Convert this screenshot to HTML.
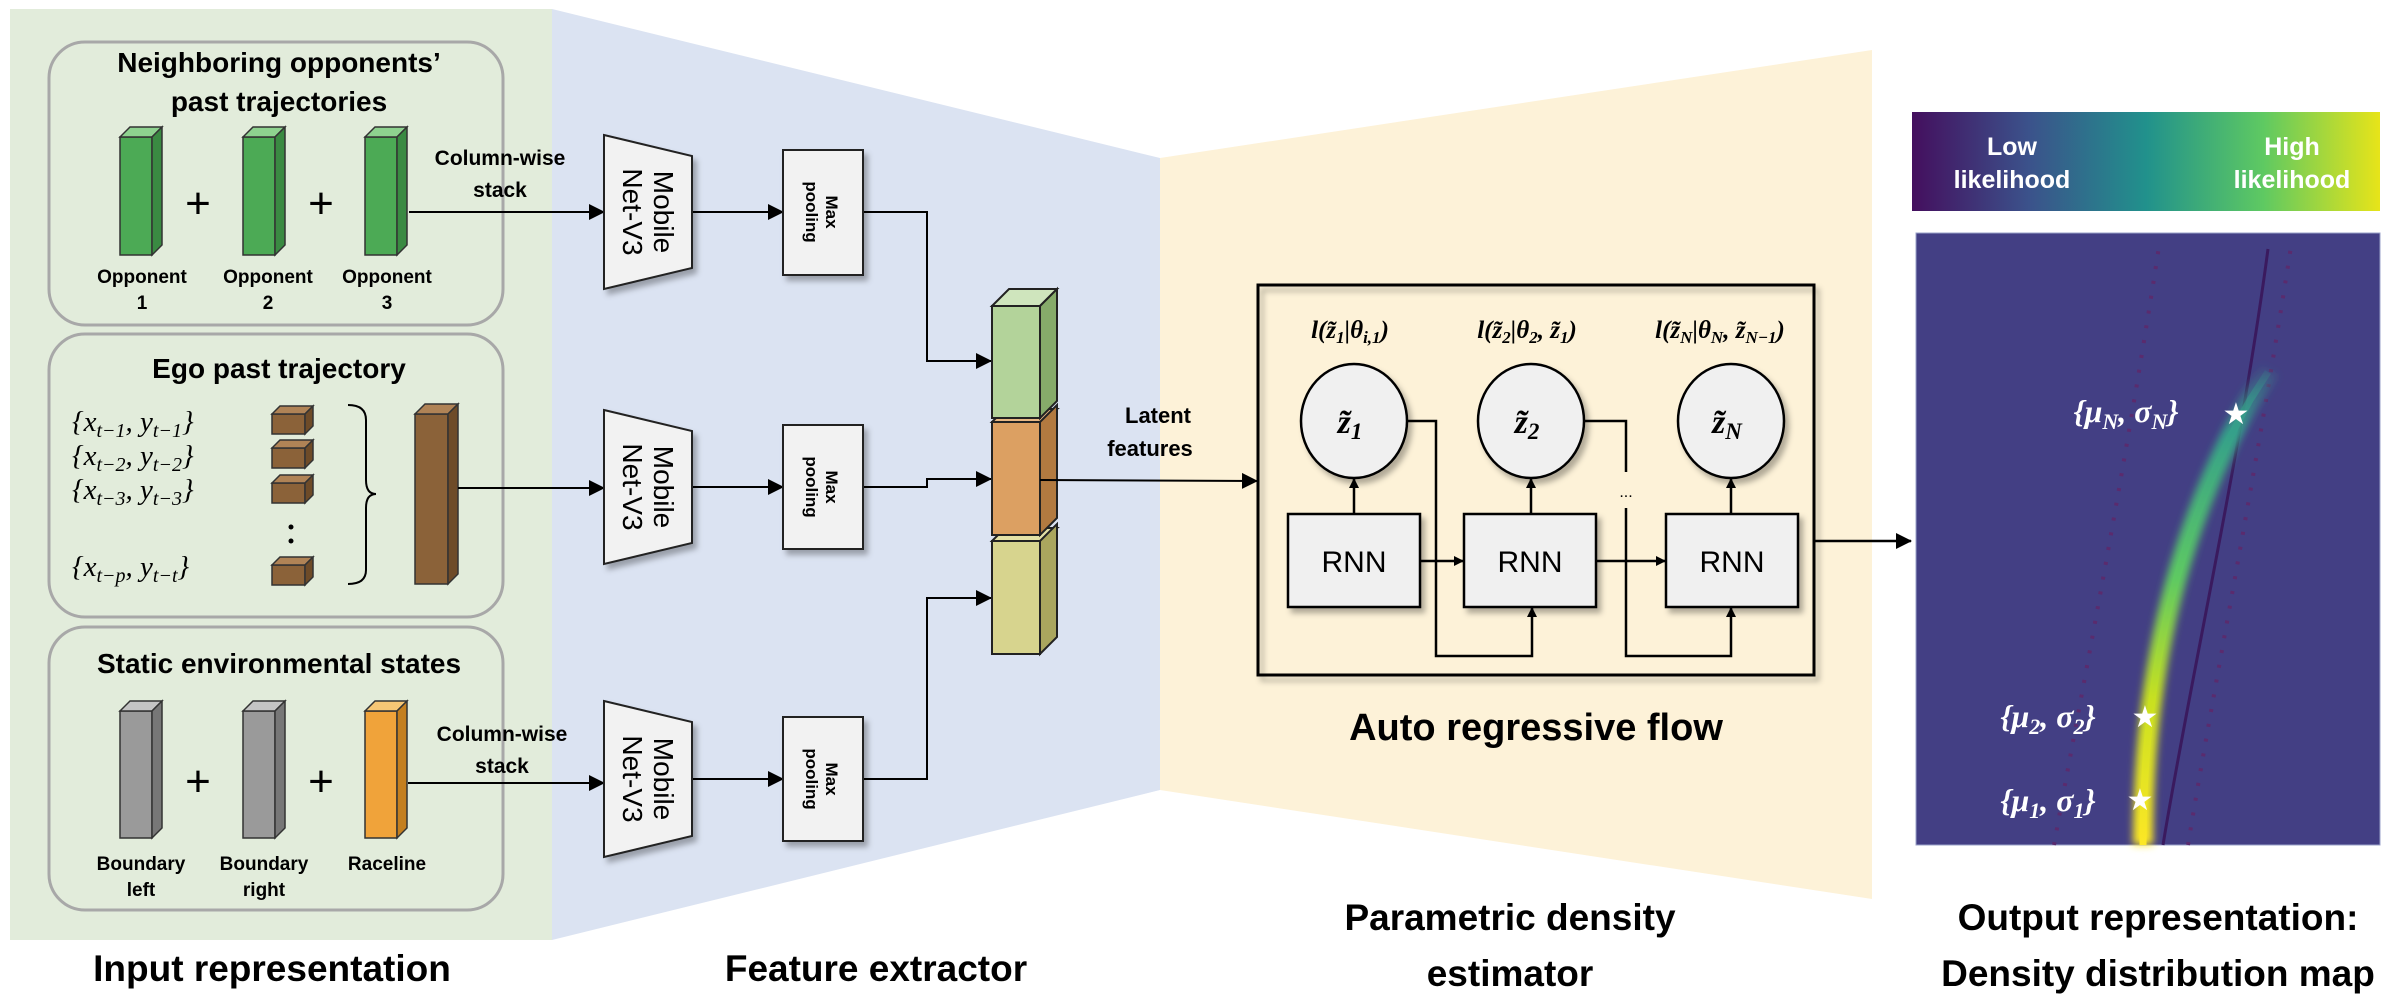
<!DOCTYPE html>
<html><head><meta charset="utf-8"><style>
html,body{margin:0;padding:0;background:#fff;}
svg{display:block}
.t{font-family:"Liberation Sans Narrow","Liberation Sans",sans-serif;font-weight:bold;fill:#000}
.m{font-family:"Liberation Serif",serif;font-style:italic}
</style></head><body>
<svg width="2398" height="1008" viewBox="0 0 2398 1008" xmlns="http://www.w3.org/2000/svg">
<defs>
<marker id="ah" markerWidth="10" markerHeight="10" refX="9" refY="5" orient="auto" markerUnits="userSpaceOnUse" viewBox="0 0 10 10"><path d="M0,0 L10,5 L0,10 z" fill="#000"/></marker>
<marker id="ah2" markerWidth="16" markerHeight="16" refX="15" refY="8" orient="auto" markerUnits="userSpaceOnUse" viewBox="0 0 16 16"><path d="M0,0 L16,8 L0,16 z" fill="#000"/></marker>
<linearGradient id="vir" x1="0" x2="1" y1="0" y2="0">
<stop offset="0" stop-color="#440f5e"/><stop offset="0.25" stop-color="#3b528b"/><stop offset="0.5" stop-color="#21918c"/><stop offset="0.75" stop-color="#5ec962"/><stop offset="1" stop-color="#e7e419"/></linearGradient>
<linearGradient id="glow" gradientUnits="userSpaceOnUse" x1="0" y1="845" x2="0" y2="360">
<stop offset="0" stop-color="#fde725"/><stop offset="0.3" stop-color="#c8e020"/><stop offset="0.55" stop-color="#5ec962"/><stop offset="0.85" stop-color="#35a08a"/><stop offset="1" stop-color="#35a08a" stop-opacity="0"/></linearGradient>
<filter id="bl" x="-50%" y="-10%" width="200%" height="120%"><feGaussianBlur stdDeviation="4"/></filter>
<filter id="sh" x="-10%" y="-10%" width="130%" height="130%"><feDropShadow dx="4" dy="5" stdDeviation="3" flood-color="#000" flood-opacity="0.3"/></filter>
</defs>

<rect x="10" y="9" width="542" height="931" fill="#e2ecdb"/>
<polygon points="552,9 1160,158 1160,790 552,940" fill="#dbe3f2"/>
<polygon points="1160,158 1872,50 1872,899 1160,790" fill="#fdf2d8"/>

<rect x="49" y="42" width="454" height="283" rx="36" fill="none" stroke="#a8a8a8" stroke-width="3"/>
<rect x="49" y="334" width="454" height="283" rx="36" fill="none" stroke="#a8a8a8" stroke-width="3"/>
<rect x="49" y="627" width="454" height="283" rx="36" fill="none" stroke="#a8a8a8" stroke-width="3"/>

<text class="t" x="279" y="72" font-size="28" text-anchor="middle">Neighboring opponents’</text>
<text class="t" x="279" y="111" font-size="28" text-anchor="middle">past trajectories</text>

<g stroke="#333" stroke-width="1.5">
<rect x="120" y="137" width="32" height="118" fill="#4caa55"/><polygon points="120,137 130,127 162,127 152,137" fill="#8ed28f"/><polygon points="152,137 162,127 162,245 152,255" fill="#3a8a42"/>
<rect x="243" y="137" width="32" height="118" fill="#4caa55"/><polygon points="243,137 253,127 285,127 275,137" fill="#8ed28f"/><polygon points="275,137 285,127 285,245 275,255" fill="#3a8a42"/>
<rect x="365" y="137" width="32" height="118" fill="#4caa55"/><polygon points="365,137 375,127 407,127 397,137" fill="#8ed28f"/><polygon points="397,137 407,127 407,245 397,255" fill="#3a8a42"/>
</g>
<text class="t" x="198" y="218" font-size="44" text-anchor="middle" style="font-weight:normal">+</text>
<text class="t" x="321" y="218" font-size="44" text-anchor="middle" style="font-weight:normal">+</text>
<g class="t" font-size="19" text-anchor="middle">
<text x="142" y="283">Opponent</text><text x="142" y="309">1</text>
<text x="268" y="283">Opponent</text><text x="268" y="309">2</text>
<text x="387" y="283">Opponent</text><text x="387" y="309">3</text>
</g>
<text class="t" x="500" y="165" font-size="21" text-anchor="middle">Column-wise</text>
<text class="t" x="500" y="197" font-size="21" text-anchor="middle">stack</text>

<text class="t" x="279" y="378" font-size="28" text-anchor="middle">Ego past trajectory</text>
<g class="m" font-size="29">
<text x="72" y="431">{<tspan>x</tspan><tspan font-size="20" dy="6">t−1</tspan><tspan dy="-6">, y</tspan><tspan font-size="20" dy="6">t−1</tspan><tspan dy="-6">}</tspan></text>
<text x="72" y="465">{<tspan>x</tspan><tspan font-size="20" dy="6">t−2</tspan><tspan dy="-6">, y</tspan><tspan font-size="20" dy="6">t−2</tspan><tspan dy="-6">}</tspan></text>
<text x="72" y="499">{<tspan>x</tspan><tspan font-size="20" dy="6">t−3</tspan><tspan dy="-6">, y</tspan><tspan font-size="20" dy="6">t−3</tspan><tspan dy="-6">}</tspan></text>
<text x="72" y="576">{<tspan>x</tspan><tspan font-size="20" dy="6">t−p</tspan><tspan dy="-6">, y</tspan><tspan font-size="20" dy="6">t−t</tspan><tspan dy="-6">}</tspan></text>
</g>
<g stroke="#333" stroke-width="1.5">
<rect x="272" y="414" width="33" height="20" fill="#8b6239"/><polygon points="272,414 280,406 313,406 305,414" fill="#b08356"/><polygon points="305,414 313,406 313,426 305,434" fill="#6e4b28"/>
<rect x="272" y="448" width="33" height="20" fill="#8b6239"/><polygon points="272,448 280,440 313,440 305,448" fill="#b08356"/><polygon points="305,448 313,440 313,460 305,468" fill="#6e4b28"/>
<rect x="272" y="483" width="33" height="20" fill="#8b6239"/><polygon points="272,483 280,475 313,475 305,483" fill="#b08356"/><polygon points="305,483 313,475 313,495 305,503" fill="#6e4b28"/>
<rect x="272" y="565" width="33" height="20" fill="#8b6239"/><polygon points="272,565 280,557 313,557 305,565" fill="#b08356"/><polygon points="305,565 313,557 313,577 305,585" fill="#6e4b28"/>
<rect x="415" y="414" width="33" height="170" fill="#8b6239"/><polygon points="415,414 425,404 458,404 448,414" fill="#b08356"/><polygon points="448,414 458,404 458,574 448,584" fill="#6e4b28"/>
</g>
<circle cx="291" cy="527" r="2.5" fill="#000"/><circle cx="291" cy="541" r="2.5" fill="#000"/>
<path d="M348,405 Q366,405 366,420 L366,480 Q366,494 376,494 Q366,494 366,508 L366,570 Q366,584 348,584" fill="none" stroke="#000" stroke-width="2"/>

<text class="t" x="279" y="673" font-size="28" text-anchor="middle">Static environmental states</text>
<g stroke="#333" stroke-width="1.5">
<rect x="120" y="711" width="32" height="127" fill="#9a9a9a"/><polygon points="120,711 130,701 162,701 152,711" fill="#c4c4c4"/><polygon points="152,711 162,701 162,828 152,838" fill="#777"/>
<rect x="243" y="711" width="32" height="127" fill="#9a9a9a"/><polygon points="243,711 253,701 285,701 275,711" fill="#c4c4c4"/><polygon points="275,711 285,701 285,828 275,838" fill="#777"/>
<rect x="365" y="711" width="32" height="127" fill="#f0a33a"/><polygon points="365,711 375,701 407,701 397,711" fill="#f6c675"/><polygon points="397,711 407,701 407,828 397,838" fill="#c47f1f"/>
</g>
<text class="t" x="198" y="796" font-size="44" text-anchor="middle" style="font-weight:normal">+</text>
<text class="t" x="321" y="796" font-size="44" text-anchor="middle" style="font-weight:normal">+</text>
<g class="t" font-size="19" text-anchor="middle">
<text x="141" y="870">Boundary</text><text x="141" y="896">left</text>
<text x="264" y="870">Boundary</text><text x="264" y="896">right</text>
<text x="387" y="870">Raceline</text>
</g>
<text class="t" x="502" y="741" font-size="21" text-anchor="middle">Column-wise</text>
<text class="t" x="502" y="773" font-size="21" text-anchor="middle">stack</text>

<g stroke="#000" stroke-width="2" fill="none">
<line x1="409" y1="212" x2="604" y2="212" marker-end="url(#ah2)"/>
<line x1="458" y1="488" x2="604" y2="488" marker-end="url(#ah2)"/>
<line x1="408" y1="783" x2="604" y2="783" marker-end="url(#ah2)"/>
<line x1="692" y1="212" x2="783" y2="212" marker-end="url(#ah2)"/>
<line x1="692" y1="487" x2="783" y2="487" marker-end="url(#ah2)"/>
<line x1="692" y1="779" x2="783" y2="779" marker-end="url(#ah2)"/>
<polyline points="863,212 927,212 927,361 991,361" marker-end="url(#ah2)"/>
<polyline points="863,487 927,487 927,479 991,479" marker-end="url(#ah2)"/>
<polyline points="863,779 927,779 927,598 991,598" marker-end="url(#ah2)"/>
</g>

<g filter="url(#sh)">
<polygon points="604,135 692,156 692,268 604,289" fill="#f2f2f2" stroke="#222" stroke-width="2"/>
<polygon points="604,410 692,431 692,543 604,564" fill="#f2f2f2" stroke="#222" stroke-width="2"/>
<polygon points="604,701 692,722 692,836 604,857" fill="#f2f2f2" stroke="#222" stroke-width="2"/>
<rect x="783" y="150" width="80" height="125" fill="#f2f2f2" stroke="#222" stroke-width="2"/>
<rect x="783" y="425" width="80" height="124" fill="#f2f2f2" stroke="#222" stroke-width="2"/>
<rect x="783" y="717" width="80" height="124" fill="#f2f2f2" stroke="#222" stroke-width="2"/>
</g>
<g font-family="Liberation Sans, sans-serif" font-size="28" text-anchor="middle">
<text transform="translate(648,212) rotate(90)"><tspan x="0" y="-6">Mobile</tspan><tspan x="0" y="25">Net-V3</tspan></text>
<text transform="translate(648,487) rotate(90)"><tspan x="0" y="-6">Mobile</tspan><tspan x="0" y="25">Net-V3</tspan></text>
<text transform="translate(648,779) rotate(90)"><tspan x="0" y="-6">Mobile</tspan><tspan x="0" y="25">Net-V3</tspan></text>
</g>
<g font-family="Liberation Sans, sans-serif" font-weight="bold" font-size="17" text-anchor="middle">
<text transform="translate(823,212) rotate(90)"><tspan x="0" y="-3">Max</tspan><tspan x="0" y="17">pooling</tspan></text>
<text transform="translate(823,487) rotate(90)"><tspan x="0" y="-3">Max</tspan><tspan x="0" y="17">pooling</tspan></text>
<text transform="translate(823,779) rotate(90)"><tspan x="0" y="-3">Max</tspan><tspan x="0" y="17">pooling</tspan></text>
</g>

<g stroke="#222" stroke-width="2">
<rect x="992" y="541" width="48" height="113" fill="#d7d48e"/><polygon points="992,541 1005,528 1057,528 1040,541" fill="#e4e1a6"/><polygon points="1040,541 1057,524 1057,637 1040,654" fill="#aaa65e"/>
<rect x="992" y="422" width="48" height="113" fill="#dca062"/><polygon points="992,422 1005,409 1057,409 1040,422" fill="#e8b884"/><polygon points="1040,422 1057,405 1057,518 1040,535" fill="#b27a40"/>
<rect x="992" y="306" width="48" height="112" fill="#b3d39a"/><polygon points="992,306 1009,289 1057,289 1040,306" fill="#cfe5bd"/><polygon points="1040,306 1057,289 1057,401 1040,418" fill="#86ab6a"/>
</g>
<text class="t" x="1158" y="423" font-size="22" text-anchor="middle">Latent</text>
<text class="t" x="1150" y="456" font-size="22" text-anchor="middle">features</text>
<line x1="1040" y1="480" x2="1257" y2="481" stroke="#000" stroke-width="2" marker-end="url(#ah2)"/>

<rect x="1258" y="285" width="556" height="390" fill="none" stroke="#000" stroke-width="3" filter="url(#sh)"/>
<g font-family="Liberation Serif, serif" font-weight="bold" font-style="italic" font-size="25" text-anchor="middle">
<text x="1350" y="338">l(z̃<tspan font-size="17" dy="5">1</tspan><tspan dy="-5">|θ</tspan><tspan font-size="17" dy="5">i,1</tspan><tspan dy="-5">)</tspan></text>
<text x="1527" y="338">l(z̃<tspan font-size="17" dy="5">2</tspan><tspan dy="-5">|θ</tspan><tspan font-size="17" dy="5">2</tspan><tspan dy="-5">, z̃</tspan><tspan font-size="17" dy="5">1</tspan><tspan dy="-5">)</tspan></text>
<text x="1720" y="338">l(z̃<tspan font-size="17" dy="5">N</tspan><tspan dy="-5">|θ</tspan><tspan font-size="17" dy="5">N</tspan><tspan dy="-5">, z̃</tspan><tspan font-size="17" dy="5">N−1</tspan><tspan dy="-5">)</tspan></text>
</g>
<g filter="url(#sh)" fill="#f0f0f0" stroke="#000" stroke-width="2.5">
<ellipse cx="1354" cy="421" rx="53" ry="57"/>
<ellipse cx="1531" cy="421" rx="53" ry="57"/>
<ellipse cx="1731" cy="421" rx="53" ry="57"/>
<rect x="1288" y="514" width="132" height="93"/>
<rect x="1464" y="514" width="132" height="93"/>
<rect x="1666" y="514" width="132" height="93"/>
</g>
<g font-family="Liberation Serif, serif" font-weight="bold" font-style="italic" font-size="34" text-anchor="middle">
<text x="1350" y="433">z̃<tspan font-size="23" dy="6">1</tspan></text>
<text x="1527" y="433">z̃<tspan font-size="23" dy="6">2</tspan></text>
<text x="1727" y="433">z̃<tspan font-size="23" dy="6">N</tspan></text>
</g>
<g font-family="Liberation Sans, sans-serif" font-size="30" text-anchor="middle">
<text x="1354" y="572">RNN</text><text x="1530" y="572">RNN</text><text x="1732" y="572">RNN</text>
</g>
<g stroke="#000" stroke-width="2.5" fill="none">
<line x1="1354" y1="514" x2="1354" y2="479" marker-end="url(#ah)"/>
<line x1="1531" y1="514" x2="1531" y2="479" marker-end="url(#ah)"/>
<line x1="1731" y1="514" x2="1731" y2="479" marker-end="url(#ah)"/>
<line x1="1420" y1="561" x2="1463" y2="561" marker-end="url(#ah)"/>
<line x1="1596" y1="561" x2="1665" y2="561" marker-end="url(#ah)"/>
<polyline points="1407,421 1436,421 1436,656 1532,656 1532,608" marker-end="url(#ah)"/>
<polyline points="1584,421 1626,421 1626,472"/>
<polyline points="1626,508 1626,656 1731,656 1731,608" marker-end="url(#ah)"/>
<line x1="1814" y1="541" x2="1911" y2="541" marker-end="url(#ah2)"/>
</g>
<text x="1626" y="497" font-family="Liberation Sans, sans-serif" font-size="16" text-anchor="middle">...</text>
<text class="t" x="1536" y="740" font-size="38" text-anchor="middle">Auto regressive flow</text>

<rect x="1912" y="112" width="468" height="99" fill="url(#vir)"/>
<g class="t" font-size="25" text-anchor="middle" style="fill:#fff">
<text x="2012" y="155">Low</text><text x="2012" y="188">likelihood</text>
<text x="2292" y="155">High</text><text x="2292" y="188">likelihood</text>
</g>

<rect x="1916" y="233" width="464" height="612" fill="#433f84" stroke="#9aa0c8" stroke-width="1"/>
<path d="M2054,845 C2080,700 2120,500 2160,240" fill="none" stroke="#5a2b6e" stroke-width="4" stroke-dasharray="3,12"/>
<path d="M2188,845 C2215,680 2255,480 2292,240" fill="none" stroke="#5a2b6e" stroke-width="4" stroke-dasharray="3,12"/>
<path d="M2163,845 C2190,680 2240,460 2268,249" fill="none" stroke="#3a1a5e" stroke-width="3"/>
<path d="M2143,845 C2143,720 2160,560 2250,400 L2270,370" fill="none" stroke="url(#glow)" stroke-width="20" filter="url(#bl)"/>
<path d="M2143,845 C2143,720 2160,560 2250,400 L2268,372" fill="none" stroke="url(#glow)" stroke-width="7"/>
<g fill="#fff" font-family="Liberation Serif, serif" font-weight="bold" font-style="italic" font-size="32" text-anchor="middle">
<text x="2126" y="422">{μ<tspan font-size="22" dy="7">N</tspan><tspan dy="-7">, σ</tspan><tspan font-size="22" dy="7">N</tspan><tspan dy="-7">}</tspan></text>
<text x="2048" y="727">{μ<tspan font-size="22" dy="7">2</tspan><tspan dy="-7">, σ</tspan><tspan font-size="22" dy="7">2</tspan><tspan dy="-7">}</tspan></text>
<text x="2048" y="811">{μ<tspan font-size="22" dy="7">1</tspan><tspan dy="-7">, σ</tspan><tspan font-size="22" dy="7">1</tspan><tspan dy="-7">}</tspan></text>
</g>
<g fill="#fff" font-family="DejaVu Sans, sans-serif" font-size="30" text-anchor="middle">
<text x="2236" y="424">★</text><text x="2145" y="727">★</text><text x="2140" y="810">★</text>
</g>

<g class="t" font-size="37" text-anchor="middle">
<text x="272" y="981">Input representation</text>
<text x="876" y="981">Feature extractor</text>
<text x="1510" y="930">Parametric density</text>
<text x="1510" y="986">estimator</text>
<text x="2158" y="930">Output representation:</text>
<text x="2158" y="986">Density distribution map</text>
</g>
</svg>
</body></html>
